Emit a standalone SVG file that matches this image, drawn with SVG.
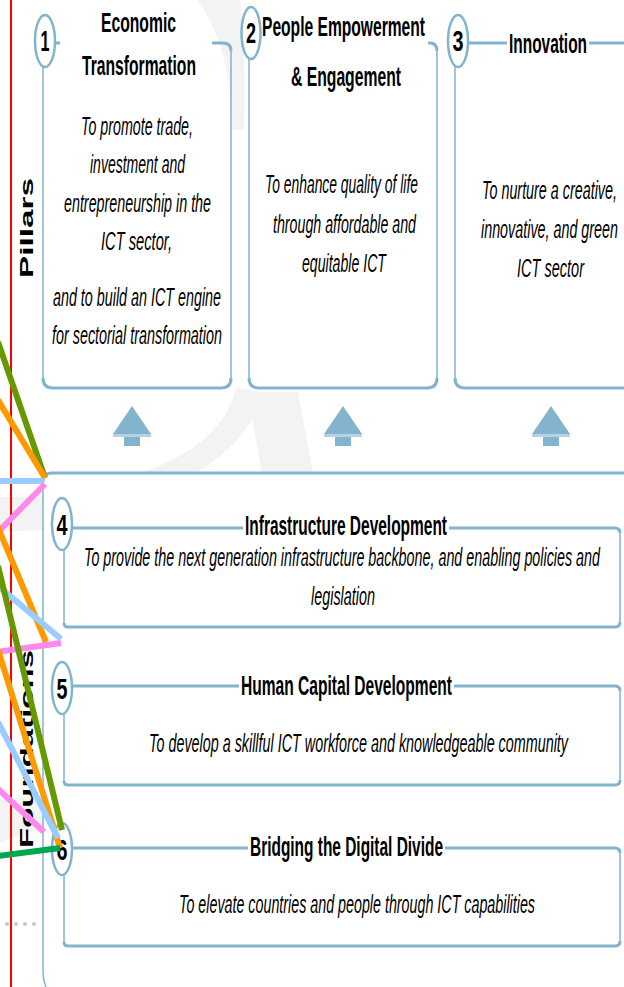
<svg xmlns="http://www.w3.org/2000/svg" width="624" height="987" viewBox="0 0 624 987">
<style>
.bg{fill:#f3f3f3}
.thick{fill:none;stroke:#82b4cd;stroke-width:3}
.thin{fill:none;stroke:#82b4cd;stroke-width:1.5}
.circ{fill:#fff;stroke:#82b4cd;stroke-width:2.5}
.num{font-family:"Liberation Sans",Arial,sans-serif;font-size:30px;font-weight:bold;fill:#000;text-anchor:middle}
.title{font-family:"Liberation Sans",Arial,sans-serif;font-size:28px;font-weight:bold;fill:#000;text-anchor:middle}
.desc{font-family:"Liberation Sans",Arial,sans-serif;font-size:26px;font-style:italic;fill:#000;text-anchor:middle}
.side{font-family:"Liberation Sans",Arial,sans-serif;font-size:18px;font-weight:bold;fill:#000;text-anchor:middle}
.arr{fill:#82b4cd}
.arrl{fill:#b3d3e3}
.conn line{stroke-width:6;stroke-linecap:butt;fill:none}
</style>
<defs>
<g id="uparrow">
<polygon class="arr" points="0,0 19,28 -19,28"/>
<rect class="arrl" x="-19" y="28" width="38" height="3"/>
<rect class="arr" x="-8" y="31" width="16" height="9"/>
</g>
</defs>
<rect width="624" height="987" fill="#fff"/>
<g id="watermark">
<path class="bg" d="M236,388 C228,425 195,455 140,473 L195,473 C232,452 255,425 262,392 Z"/>
<path class="bg" d="M252,418 L262,473 L313,473 L298,392 L262,392 Z"/>
<path class="bg" d="M0,497 L43,497 L43,530 L0,532 Z"/>
<path class="bg" d="M0,800 L43,796 L43,828 L0,842 Z"/>
<path class="bg" d="M198,0 L240,0 C244,40 246,80 244,130 L232,130 C232,80 222,35 198,0 Z"/>
</g>
<line x1="11" y1="0" x2="11" y2="987" stroke="#ff0000" stroke-width="2"/>
<g id="dots" fill="#c8c8c8">
<circle cx="7" cy="924" r="2"/><circle cx="16" cy="924" r="2"/><circle cx="25" cy="924" r="2"/><circle cx="34" cy="924" r="2"/>
</g>
<g id="label-pillars">
<text class="side" transform="translate(33,228) rotate(-90)" textLength="100" lengthAdjust="spacingAndGlyphs">Pillars</text>
</g>
<g id="label-foundations">
<text class="side" transform="translate(33,749) rotate(-90)" textLength="198" lengthAdjust="spacingAndGlyphs">Foundations</text>
</g>
<g id="pillar1">
<path class="thick" d="M54,43 H60 M212,43 H223 Q231,43 231,51 M231,378 Q231,388 221,388 H53 Q43,388 43,378"/>
<path class="thin" d="M231,51 V378 M43,66 V378"/>
<ellipse class="circ" cx="45" cy="41" rx="10" ry="26"/>
<text class="num" x="45" y="51" textLength="9" lengthAdjust="spacingAndGlyphs">1</text>
<text class="title" x="138.5" y="32" textLength="75" lengthAdjust="spacingAndGlyphs">Economic</text>
<text class="title" x="139" y="75" textLength="114" lengthAdjust="spacingAndGlyphs">Transformation</text>
<text class="desc" x="137" y="135" textLength="112" lengthAdjust="spacingAndGlyphs">To promote trade,</text>
<text class="desc" x="137.5" y="173" textLength="95" lengthAdjust="spacingAndGlyphs">investment and</text>
<text class="desc" x="137.5" y="212" textLength="147" lengthAdjust="spacingAndGlyphs">entrepreneurship in the</text>
<text class="desc" x="136.5" y="250" textLength="71" lengthAdjust="spacingAndGlyphs">ICT sector,</text>
<text class="desc" x="137" y="306" textLength="168" lengthAdjust="spacingAndGlyphs">and to build an ICT engine</text>
<text class="desc" x="137" y="344" textLength="170" lengthAdjust="spacingAndGlyphs">for sectorial transformation</text>
</g>
<g id="pillar2">
<path class="thick" d="M428,43 H430 Q437,43 437,51 M437,378 Q437,388 427,388 H259 Q249,388 249,378"/>
<path class="thin" d="M437,51 V378 M249,58 V378"/>
<ellipse class="circ" cx="251" cy="33" rx="9.5" ry="26"/>
<text class="num" x="251" y="43" textLength="10" lengthAdjust="spacingAndGlyphs">2</text>
<text class="title" x="343.5" y="36" textLength="163" lengthAdjust="spacingAndGlyphs">People Empowerment</text>
<text class="title" x="346" y="86" textLength="110" lengthAdjust="spacingAndGlyphs">&amp; Engagement</text>
<text class="desc" x="341.5" y="193" textLength="153" lengthAdjust="spacingAndGlyphs">To enhance quality of life</text>
<text class="desc" x="344.5" y="233" textLength="143" lengthAdjust="spacingAndGlyphs">through affordable and</text>
<text class="desc" x="344" y="272" textLength="84" lengthAdjust="spacingAndGlyphs">equitable ICT</text>
</g>
<g id="pillar3">
<path class="thick" d="M468,43 H507 M589,43 H626 M626,388 H465 Q455,388 455,378"/>
<path class="thin" d="M455,66 V378"/>
<ellipse class="circ" cx="458" cy="41" rx="10" ry="26"/>
<text class="num" x="458" y="51" textLength="11" lengthAdjust="spacingAndGlyphs">3</text>
<text class="title" x="548" y="53" textLength="78" lengthAdjust="spacingAndGlyphs">Innovation</text>
<text class="desc" x="549.5" y="199" textLength="135" lengthAdjust="spacingAndGlyphs">To nurture a creative,</text>
<text class="desc" x="549.5" y="238" textLength="137" lengthAdjust="spacingAndGlyphs">innovative, and green</text>
<text class="desc" x="550.5" y="277" textLength="67" lengthAdjust="spacingAndGlyphs">ICT sector</text>
</g>
<g id="arrows">
<use href="#uparrow" x="132" y="406"/>
<use href="#uparrow" x="343" y="406"/>
<use href="#uparrow" x="551" y="406"/>
</g>
<g id="foundation-frame">
<path class="thick" d="M43,482 Q43,473 52,473 H626"/>
<path class="thin" d="M43,482 V972 Q43,980 46,987"/>
</g>
<g id="foundation4">
<path class="thick" d="M72,528 H243 M449,528 H615 Q620,528 620,533 M620,622 Q620,627 615,627 H68 Q64,627 64,623"/>
<path class="thin" d="M620,533 V622 M64,550 V623"/>
<ellipse class="circ" cx="62" cy="524" rx="10" ry="26"/>
<text class="num" x="62" y="535" textLength="11" lengthAdjust="spacingAndGlyphs">4</text>
<text class="title" x="346" y="535" textLength="202" lengthAdjust="spacingAndGlyphs">Infrastructure Development</text>
<text class="desc" x="342" y="566" textLength="516" lengthAdjust="spacingAndGlyphs">To provide the next generation infrastructure backbone, and enabling policies and</text>
<text class="desc" x="343" y="605" textLength="64" lengthAdjust="spacingAndGlyphs">legislation</text>
</g>
<g id="foundation5">
<path class="thick" d="M72,686 H239 M454,686 H615 Q620,686 620,691 M620,780 Q620,785 615,785 H68 Q64,785 64,781"/>
<path class="thin" d="M620,691 V780 M64,713 V781"/>
<ellipse class="circ" cx="62" cy="688" rx="10" ry="26"/>
<text class="num" x="62" y="699" textLength="11" lengthAdjust="spacingAndGlyphs">5</text>
<text class="title" x="346.5" y="695" textLength="211" lengthAdjust="spacingAndGlyphs">Human Capital Development</text>
<text class="desc" x="358.5" y="752" textLength="419" lengthAdjust="spacingAndGlyphs">To develop a skillful ICT workforce and knowledgeable community</text>
</g>
<g id="foundation6">
<path class="thick" d="M72,848 H248 M445,848 H615 Q620,848 620,853 M620,941 Q620,946 615,946 H68 Q64,946 64,942"/>
<path class="thin" d="M620,853 V941 M64,874 V942"/>
<ellipse class="circ" cx="62" cy="849" rx="10" ry="26"/>
<text class="num" x="62" y="860" textLength="11" lengthAdjust="spacingAndGlyphs">6</text>
<text class="title" x="346.5" y="856" textLength="193" lengthAdjust="spacingAndGlyphs">Bridging the Digital Divide</text>
<text class="desc" x="357" y="913" textLength="356" lengthAdjust="spacingAndGlyphs">To elevate countries and people through ICT capabilities</text>
</g>
<g id="connectors" class="conn">
<line x1="-2" y1="342" x2="45" y2="478" stroke="#669900"/>
<line x1="-2" y1="400" x2="45" y2="478" stroke="#ff9900"/>
<line x1="-2" y1="481" x2="44" y2="481" stroke="#99ccff"/>
<line x1="45" y1="484" x2="-3" y2="533" stroke="#ff88ee"/>
<line x1="-3" y1="525" x2="46" y2="642" stroke="#ff9900"/>
<line x1="-3" y1="585" x2="61" y2="639" stroke="#99ccff"/>
<line x1="-3" y1="652" x2="61" y2="643" stroke="#ff88ee"/>
<line x1="-2" y1="566" x2="62" y2="830" stroke="#669900"/>
<line x1="-2" y1="650" x2="60" y2="848" stroke="#ff9900"/>
<line x1="-2" y1="722" x2="58" y2="838" stroke="#99ccff"/>
<line x1="-2" y1="789" x2="44" y2="832" stroke="#ff88ee"/>
<line x1="-2" y1="856" x2="60" y2="848" stroke="#00a650"/>
</g>
</svg>
